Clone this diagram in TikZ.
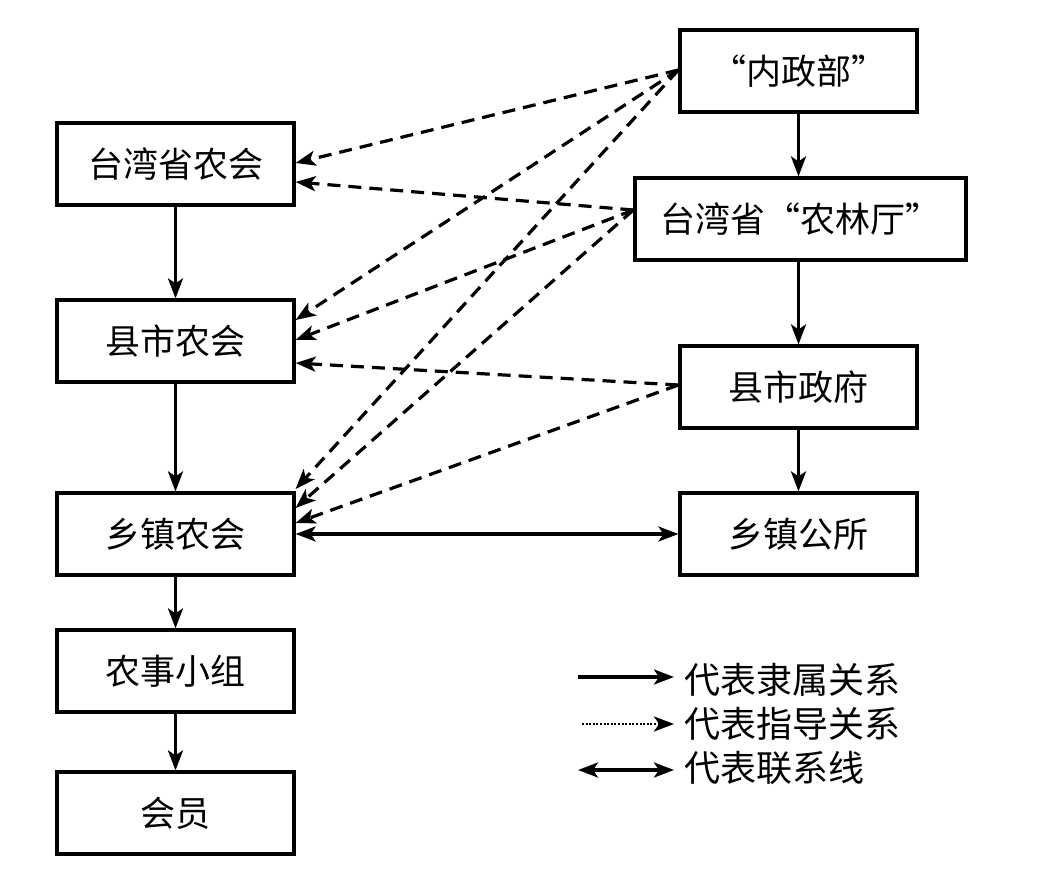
\documentclass[tikz,border=0pt]{standalone}
\usepackage{fontspec}
\newfontfamily\cjk{Noto Sans CJK SC}
\usetikzlibrary{arrows.meta}
\begin{document}
\begin{tikzpicture}[x=1pt,y=-1pt,
  box/.style={draw,line width=3.2pt,minimum width=237pt,minimum height=82pt,inner sep=0pt,
    font=\cjk\fontsize{35}{42}\selectfont},
  tip/.style={-{Stealth[length=20pt,width=15pt,inset=5pt]}},
  solid arrow/.style={line width=3.2pt,tip},
  dashline/.style={line width=3.2pt,dash pattern=on 13pt off 8pt,tip},
  legtext/.style={anchor=west,inner sep=0pt,font=\cjk\fontsize{36}{42}\selectfont}]
\useasboundingbox (0,0) rectangle (1039,876);
% left column
\node[box] (n1) at (175.5,164) {台湾省农会};
\node[box] (n2) at (175.5,341) {县市农会};
\node[box] (n3) at (175.5,534) {乡镇农会};
\node[box] (n4) at (175.5,671) {农事小组};
\node[box] (n5) at (175.5,813) {会员};
% right column
\node[box] (r1) at (798.5,71) {“内政部”};
\node[box,minimum width=331pt] (r2) at (800.5,219) {台湾省“农林厅”};
\node[box] (r3) at (798.5,387) {县市政府};
\node[box] (r4) at (798.5,534) {乡镇公所};
% solid arrows
\draw[solid arrow] (n1) -- (n2);
\draw[solid arrow] (n2) -- (n3);
\draw[solid arrow] (n3) -- (n4);
\draw[solid arrow] (n4) -- (n5);
\draw[solid arrow] (r1) -- (r1.south |- r2.north);
\draw[solid arrow] (r2.south -| r3.north) -- (r3);
\draw[solid arrow] (r3) -- (r4);
\draw[line width=3.2pt,{Stealth[length=20pt,width=15pt,inset=5pt]}-{Stealth[length=20pt,width=15pt,inset=5pt]}] (n3) -- (r4);
% dashed guidance
\coordinate (s1) at ([yshift=1pt]r1.west);
\coordinate (s2) at ([yshift=9pt]r2.west);
\coordinate (s3) at ([yshift=2pt]r3.west);
\draw[dashline] (s1) -- ([yshift=1pt]n1.east);
\draw[dashline] (s1) -- ([yshift=21pt]n2.east);
\draw[dashline] (s1) -- ([yshift=45pt]n3.east);
\draw[dashline] (s2) -- ([yshift=-18pt]n1.east);
\draw[dashline] (s2) -- ([yshift=1pt]n2.east);
\draw[dashline] (s2) -- ([yshift=26pt]n3.east);
\draw[dashline] (s3) -- ([yshift=-22pt]n2.east);
\draw[dashline] (s3) -- ([yshift=11pt]n3.east);
% legend
\coordinate (la1) at (578,677); \coordinate (lb1) at (674,677);
\coordinate (la2) at (582,724); \coordinate (lb2) at (674,724);
\coordinate (la3) at (578,770); \coordinate (lb3) at (674,770);
\draw[line width=3.2pt,tip] (la1) -- (lb1);
\draw[line width=2.6pt,dash pattern=on 2pt off 1.6pt,tip] (la2) -- (lb2);
\draw[line width=3.2pt,{Stealth[length=20pt,width=15pt,inset=5pt]}-{Stealth[length=20pt,width=15pt,inset=5pt]}] (la3) -- (lb3);
\node[legtext] (t1) at (684,680) {代表隶属关系};
\node[legtext] (t2) at (684,724) {代表指导关系};
\node[legtext] (t3) at (684,768) {代表联系线};
\end{tikzpicture}
\end{document}
